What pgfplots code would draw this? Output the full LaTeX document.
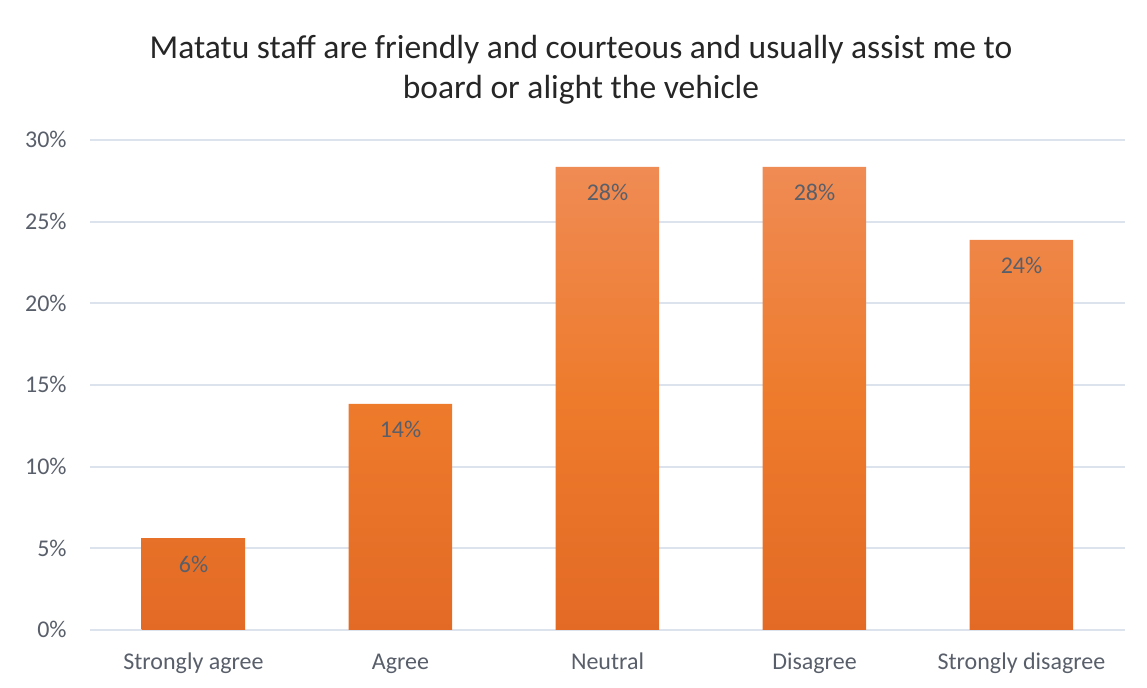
\documentclass[border=0pt]{standalone}
\usepackage{pgfplots}
\pgfplotsset{compat=1.18}
\usepackage{fontspec}
\setmainfont{Carlito}
\definecolor{txt}{HTML}{595F6A}
\definecolor{ttl}{HTML}{262626}
\definecolor{gridc}{HTML}{DDE3EC}
\definecolor{bartop}{HTML}{EF8B54}
\definecolor{barmid}{HTML}{EE7B2C}
\definecolor{barbot}{HTML}{E36A25}
\begin{document}
\begin{tikzpicture}
\useasboundingbox (-45pt,-29pt) rectangle (528.5pt,315pt);
\begin{axis}[
  at={(0,0)}, anchor=south west,
  scale only axis, width=517.5pt, height=245pt,
  xmin=-0.5, xmax=4.5, ymin=0, ymax=30,
  axis line style={draw=none},
  tick style={draw=none},
  xtick={0,1,2,3,4},
  xticklabels={Strongly agree, Agree, Neutral, Disagree, Strongly disagree},
  ytick={0,5,10,15,20,25,30},
  yticklabel={\pgfmathprintnumber[fixed,precision=0]{\tick}\%},
  /pgf/number format/assume math mode=true,
  ymajorgrids=true, xmajorgrids=false,
  major grid style={draw=gridc, line width=1pt},
  ticklabel style={font=\fontsize{12}{14}\selectfont, text=txt, inner sep=0pt},
  yticklabel style={anchor=base east, xshift=-11.5pt, yshift=-3.85pt},
  xticklabel style={anchor=base, yshift=-15.5pt},
  ybar, bar width=0.5,
  nodes near coords={\pgfmathprintnumber[fixed,precision=0]{\pgfplotspointmeta}\%},
  nodes near coords style={anchor=base, yshift=-17pt, inner sep=0pt, font=\fontsize{12}{14}\selectfont, text=txt},
]
\addplot[draw=none, top color=bartop, bottom color=barbot, middle color=barmid] coordinates {(0,5.63) (1,13.84) (2,28.35) (3,28.35) (4,23.88)};
\end{axis}
\node[align=center, text=ttl, font=\fontsize{16.75}{20}\selectfont] at (245.5pt,280pt) {Matatu staff are friendly and courteous and usually assist me to\\board or alight the vehicle};
\end{tikzpicture}
\end{document}
